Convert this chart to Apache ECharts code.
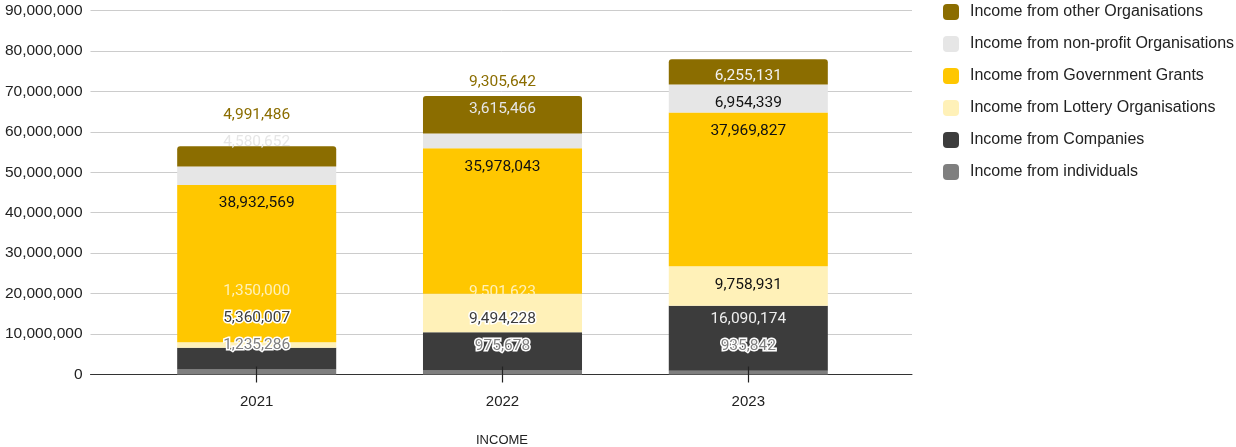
<!DOCTYPE html>
<html>
<head>
<meta charset="utf-8">
<title>Income</title>
<script src="https://cdn.jsdelivr.net/npm/echarts@6/dist/echarts.min.js"></script>
<style>
  html, body { margin: 0; padding: 0; background: #ffffff; }
  #chart { width: 1236px; height: 447px; }
</style>
</head>
<body>
<div id="chart"></div>
<script>
// Income per year, stacked by source (bottom to top)
const years = ['2021', '2022', '2023'];
const individuals = [1235286, 975678, 935842];
const companies = [5360007, 9494228, 16090174];
const lottery = [1350000, 9501623, 9758931];
const governmentGrants = [38932569, 35978043, 37969827];
const nonProfit = [4580652, 3615466, 6954339];
const otherOrgs = [4991486, 9305642, 6255131];

// Value axis range and step
const yMin = 0;
const yMax = 90000000;
const yStep = 10000000;

const axisTitle = 'INCOME';

const seriesDefs = [
  { name: 'Income from individuals', data: individuals, color: '#7f7f7f', insideText: '#ffffff', halo: true },
  { name: 'Income from Companies', data: companies, color: '#3c3c3c', insideText: '#eeeeee', halo: true },
  { name: 'Income from Lottery Organisations', data: lottery, color: '#fff1b8', insideText: '#111111', halo: false },
  { name: 'Income from Government Grants', data: governmentGrants, color: '#ffc700', insideText: '#111111', halo: false },
  { name: 'Income from non-profit Organisations', data: nonProfit, color: '#e6e6e6', insideText: '#111111', halo: false },
  { name: 'Income from other Organisations', data: otherOrgs, color: '#8b6d00', insideText: '#f2f2f2', halo: true }
];

const fmt = v => Number(v).toLocaleString('en-US');

const LABEL_FONT = 'Roboto, "Liberation Sans", Arial, sans-serif';
const AXIS_FONT = '"Liberation Sans", Arial, sans-serif';

// Label placement rules (pixels)
const FIT_MIN = 22;   // a segment shorter than this cannot hold its label
const INSET = 18.5;   // label centre below the top of a segment it fits in
const RAISE = 24.5;   // label centre above the top of a segment it does not fit in
const GAP = 27;       // minimum spacing between stacked label centres

const chart = echarts.init(document.getElementById('chart'), null, { renderer: 'canvas' });

const gridTop = 10.5;
const gridBottom = 72.5;

const baseOption = {
  animation: false,
  backgroundColor: '#ffffff',
  title: {
    text: axisTitle,
    left: 502,
    top: 434,
    padding: 0,
    textAlign: 'center',
    textStyle: { fontFamily: AXIS_FONT, fontSize: 13, fontWeight: 'normal', color: '#222222' }
  },
  legend: {
    orient: 'vertical',
    left: 943,
    top: 4,
    padding: 0,
    itemWidth: 16,
    itemHeight: 16,
    itemGap: 16,
    icon: 'roundRect',
    data: seriesDefs.map(s => s.name).reverse(),
    selectedMode: false,
    textStyle: { fontFamily: AXIS_FONT, fontSize: 16, color: '#222222', lineHeight: 16, padding: [0, 0, 0, 6] }
  },
  grid: [
    { left: 90.5, right: 324, top: gridTop, bottom: gridBottom },
    { left: 133.8, right: 364.8, top: gridTop, bottom: gridBottom }
  ],
  xAxis: [
    {
      gridIndex: 0, type: 'category', data: years,
      axisLine: { lineStyle: { color: '#333333', width: 1 } },
      axisTick: { show: false }, axisLabel: { show: false }, splitLine: { show: false }
    },
    {
      gridIndex: 1, type: 'category', data: years, offset: -8, z: 10,
      axisLine: { show: true, lineStyle: { color: '#000000', width: 1, opacity: 0 } },
      axisTick: { show: true, alignWithLabel: true, length: 16, lineStyle: { color: '#222222', width: 1.2, opacity: 1 } },
      axisLabel: { margin: 28, fontFamily: AXIS_FONT, fontSize: 15, color: '#222222' },
      splitLine: { show: false }
    }
  ],
  yAxis: [
    {
      gridIndex: 0, type: 'value', min: yMin, max: yMax, interval: yStep,
      axisLine: { show: false }, axisTick: { show: false },
      axisLabel: { margin: 8, formatter: fmt, fontFamily: AXIS_FONT, fontSize: 15.5, color: '#222222' },
      splitLine: { lineStyle: { color: '#cccccc', width: 1 } }
    },
    {
      gridIndex: 1, type: 'value', min: yMin, max: yMax, interval: yStep, show: false,
      splitLine: { show: false }
    }
  ],
  series: seriesDefs.map((s, i) => ({
    name: s.name,
    type: 'bar',
    stack: 'income',
    xAxisIndex: 1,
    yAxisIndex: 1,
    barWidth: '64.7%',
    itemStyle: {
      color: s.color,
      borderRadius: i === seriesDefs.length - 1 ? [3, 3, 0, 0] : 0
    },
    label: { show: false },
    data: s.data.slice()
  }))
};

chart.setOption(baseOption);

// Place value labels: inside the top of a segment when it fits, otherwise
// above it; labels further up the stack are pushed clear of the ones below.
function layoutLabels() {
  const yPix = v => chart.convertToPixel({ yAxisIndex: 1 }, v);
  const itemsBySeries = seriesDefs.map(() => []);
  years.forEach((year, c) => {
    let cum = 0;
    let prev = Infinity;
    seriesDefs.forEach((s, i) => {
      const v = s.data[c];
      const bottom = yPix(cum);
      cum += v;
      const top = yPix(cum);
      const h = bottom - top;
      let centre = h >= FIT_MIN ? top + INSET : top - RAISE;
      centre = Math.min(centre, prev - GAP);
      prev = centre;
      const inside = centre >= top && centre <= bottom;
      itemsBySeries[i].push({
        value: v,
        label: {
          show: true,
          position: ['50%', centre - top],
          align: 'center',
          verticalAlign: 'middle',
          formatter: p => fmt(p.value),
          fontFamily: LABEL_FONT,
          fontSize: 15.5,
          color: inside ? s.insideText : s.color,
          textBorderColor: (!inside && s.halo) ? '#ffffff' : 'transparent',
          textBorderWidth: (!inside && s.halo) ? 3 : 0
        }
      });
    });
  });
  chart.setOption({
    series: seriesDefs.map((s, i) => ({ name: s.name, data: itemsBySeries[i] }))
  });
}

layoutLabels();
</script>
</body>
</html>
